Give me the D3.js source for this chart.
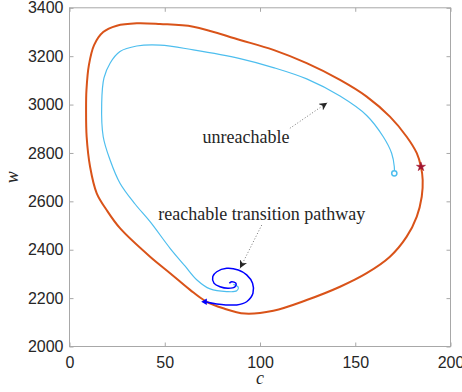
<!DOCTYPE html>
<html>
<head>
<meta charset="utf-8">
<script src="https://cdn.jsdelivr.net/npm/d3@7"></script>
<style>
  body { margin: 0; background: #fff; }
  svg { display: block; }
</style>
</head>
<body>
<script>
// limit cycle (orange), closed loop, [c, w]
var cycle = [
  [184.5,2743],[182.3,2799],[177.0,2867],[168.2,2950],[156.0,3033],[142.0,3102],
  [124.5,3171],[107.0,3226],[89.5,3267],[65.0,3322],[47.5,3333],[35.3,3336],
  [24.8,3326],[17.7,3300],[12.9,3246],[10.2,3164],[8.9,3060],[8.7,2978],
  [9.0,2867],[10.8,2743],[14.3,2633],[19.5,2564],[26.5,2489],[42.3,2371],
  [52.8,2303],[63.3,2234],[71.1,2189],[80.7,2158],[92.1,2136],[107.0,2148],
  [124.5,2192],[142.0,2247],[156.0,2303],[168.2,2371],[177.0,2454],[182.3,2537],
  [184.9,2619],[185.4,2688]
];
// unreachable path (light blue)
var unreach = [
  [170.5,2716],[170.5,2743],[169.1,2799],[164.7,2867],[156.0,2955],[142.0,3035],
  [124.5,3106],[107.0,3153],[89.5,3190],[65.0,3226],[47.5,3246],[35.3,3242],
  [26.5,3219],[21.3,3171],[18.1,3110],[16.9,3005],[17.7,2867],[21.3,2771],
  [26.5,2675],[34.4,2589],[42.3,2516],[52.8,2406],[60.6,2333],[66.9,2275],
  [73.8,2238],[82.5,2227],[87.8,2230],[88.6,2245],[86.0,2257]
];
// reachable transition pathway (blue spiral)
var reach = [
  [71.1,2185],[77.3,2176],[87.8,2172],[93.0,2185],[96.3,2220],[96.1,2261],
  [93.0,2296],[88.6,2316],[82.5,2323],[77.3,2309],[75.2,2289],[75.9,2261],
  [79.0,2247],[83.4,2241],[86.9,2247],[87.4,2261],[85.1,2268],[83.9,2261]
];
var starPt = [184.5, 2743];
var circlePt = [170.5, 2716];
var triPt = [71.1, 2185];

var xTicks = [0, 50, 100, 150, 200];
var yTicks = [2000, 2200, 2400, 2600, 2800, 3000, 3200, 3400];

// annotations: text at [c,w], arrow from -> to
var labels = ["unreachable", "reachable transition pathway"];
var labelPos = [[92.7, 2841], [100.9, 2523]];
var arrowFrom = [[115.7, 2902], [100.9, 2502]];
var arrowTo = [[135.3, 3008], [89.5, 2323]];

var W = 462, H = 392;
var pLeft = 69.5, pRight = 450.5, pTop = 7.8, pBottom = 346.5;

var svg = d3.select("body").append("svg").attr("width", W).attr("height", H);

var x = d3.scaleLinear().domain([0, 200]).range([pLeft, pRight]);
var y = d3.scaleLinear().domain([2000, 3400]).range([pBottom, pTop]);

var tickCol = "#262626";
var boxCol = "#a8a8a8";

function styleAxis(g, showText) {
  g.select(".domain").remove();
  g.selectAll(".tick line").attr("stroke", boxCol);
  if (!showText) g.selectAll(".tick text").remove();
  else g.selectAll(".tick text").attr("fill", tickCol)
        .style("font-family", "'Liberation Sans', Arial, sans-serif").style("font-size", "16px");
}

var fmt = d3.format("d");
svg.append("g").attr("transform", "translate(0," + pBottom + ")")
  .call(d3.axisBottom(x).tickValues(xTicks).tickFormat(fmt).tickSizeInner(-4).tickSizeOuter(0).tickPadding(10.5))
  .call(styleAxis, true);
svg.append("g").attr("transform", "translate(0," + pTop + ")")
  .call(d3.axisTop(x).tickValues(xTicks).tickSizeInner(-4).tickSizeOuter(0))
  .call(styleAxis, false);
svg.append("g").attr("transform", "translate(" + pLeft + ",0)")
  .call(d3.axisLeft(y).tickValues(yTicks).tickFormat(fmt).tickSizeInner(-4).tickSizeOuter(0).tickPadding(6))
  .call(styleAxis, true);
svg.append("g").attr("transform", "translate(" + pRight + ",0)")
  .call(d3.axisRight(y).tickValues(yTicks).tickSizeInner(-4).tickSizeOuter(0))
  .call(styleAxis, false);

svg.append("rect")
  .attr("x", pLeft).attr("y", pTop).attr("width", pRight - pLeft).attr("height", pBottom - pTop)
  .attr("fill", "none").attr("stroke", boxCol).attr("stroke-width", 1);

var line = d3.line().x(function(d){ return x(d[0]); }).y(function(d){ return y(d[1]); });

svg.append("path").datum(cycle)
  .attr("d", line.curve(d3.curveCatmullRomClosed.alpha(0.5)))
  .attr("fill", "none").attr("stroke", "#D95319").attr("stroke-width", 2);

svg.append("path").datum(unreach)
  .attr("d", line.curve(d3.curveCatmullRom.alpha(0.5)))
  .attr("fill", "none").attr("stroke", "#4DBEEE").attr("stroke-width", 1.2);

svg.append("path").datum(reach)
  .attr("d", line.curve(d3.curveCatmullRom.alpha(0.5)))
  .attr("fill", "none").attr("stroke", "#0000FF").attr("stroke-width", 1.5);

// markers
svg.append("path")
  .attr("d", d3.symbol().type(d3.symbolStar).size(26)())
  .attr("transform", "translate(" + x(starPt[0]) + "," + y(starPt[1]) + ")")
  .attr("fill", "#A2142F").attr("stroke", "#A2142F").attr("stroke-width", 0.5);

svg.append("circle")
  .attr("cx", x(circlePt[0])).attr("cy", y(circlePt[1])).attr("r", 2.6)
  .attr("fill", "#fff").attr("stroke", "#4DBEEE").attr("stroke-width", 1.5);

svg.append("path")
  .attr("d", d3.symbol().type(d3.symbolTriangle).size(18)())
  .attr("transform", "translate(" + x(triPt[0]) + "," + y(triPt[1]) + ") rotate(-90)")
  .attr("fill", "#0000FF");

// arrows
svg.append("defs").append("marker")
  .attr("id", "head").attr("viewBox", "0 0 10 10").attr("refX", 10).attr("refY", 5)
  .attr("markerWidth", 8).attr("markerHeight", 8).attr("markerUnits", "userSpaceOnUse")
  .attr("orient", "auto")
  .append("path").attr("d", "M0,0 L10,5 L0,10 L3,5 Z").attr("fill", "#262626");

arrowFrom.forEach(function(f, i){
  svg.append("line")
    .attr("x1", x(f[0])).attr("y1", y(f[1]))
    .attr("x2", x(arrowTo[i][0])).attr("y2", y(arrowTo[i][1]))
    .attr("stroke", "#555").attr("stroke-width", 0.8).attr("stroke-dasharray", "1 2")
    .attr("marker-end", "url(#head)");
});

labels.forEach(function(t, i){
  svg.append("text")
    .attr("x", x(labelPos[i][0])).attr("y", y(labelPos[i][1]))
    .attr("text-anchor", "middle")
    .style("font-family", "'Liberation Serif', 'Times New Roman', serif")
    .style("font-size", "18px").attr("fill", tickCol)
    .text(t);
});

// axis labels
svg.append("text")
  .attr("x", (pLeft + pRight) / 2).attr("y", 384)
  .attr("text-anchor", "middle")
  .style("font-family", "'Liberation Serif', serif").style("font-style", "italic")
  .style("font-size", "18px").attr("fill", tickCol)
  .text("c");
svg.append("text")
  .attr("transform", "translate(18," + ((pTop + pBottom) / 2) + ") rotate(-90)")
  .attr("text-anchor", "middle")
  .style("font-family", "'Liberation Serif', serif").style("font-style", "italic")
  .style("font-size", "18px").attr("fill", tickCol)
  .text("w");
</script>
</body>
</html>
